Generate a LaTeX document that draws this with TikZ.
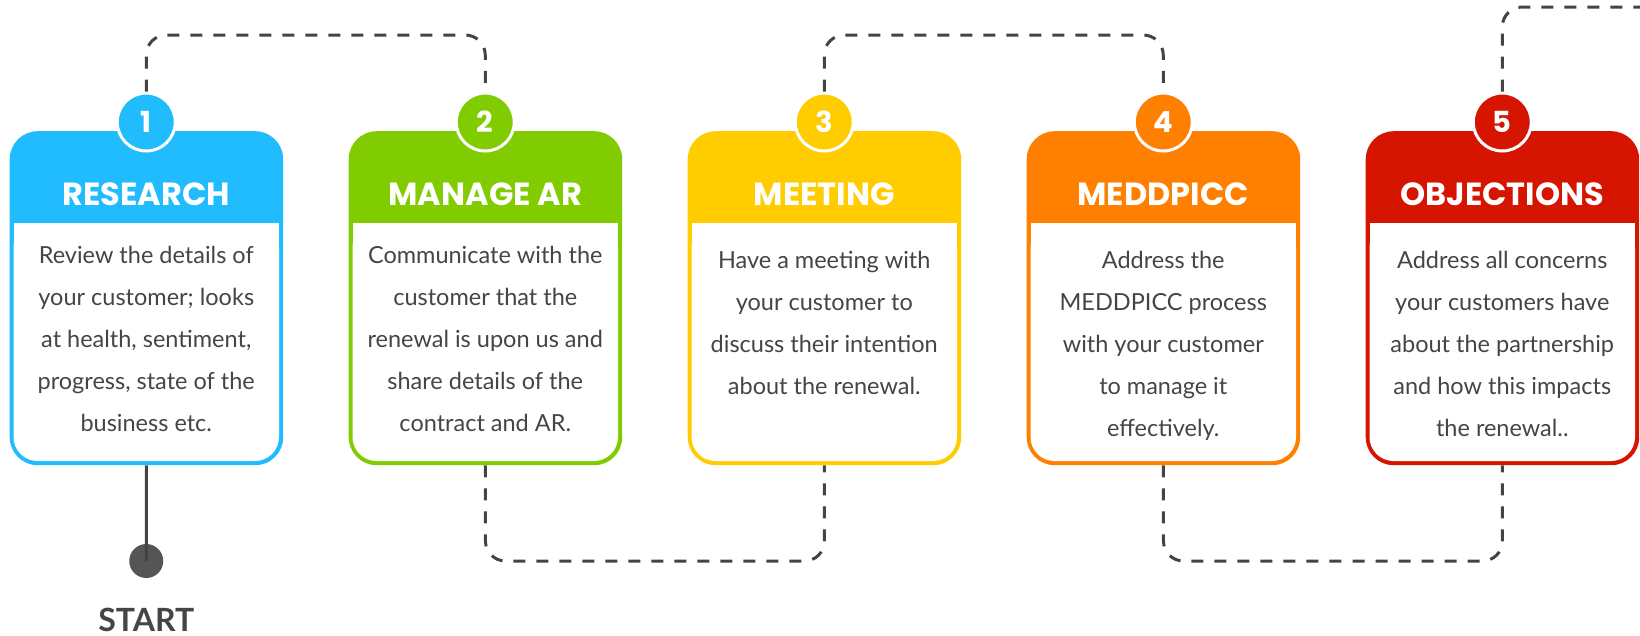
\documentclass[tikz,border=0pt]{standalone}
\usepackage{fontspec}
\setmainfont{Lato}
\newfontfamily\headfont{Poppins}
\definecolor{stepblue}{HTML}{20BCFE}
\definecolor{stepgreen}{HTML}{80CC00}
\definecolor{stepyellow}{HTML}{FFCC00}
\definecolor{steporange}{HTML}{FF7F00}
\definecolor{stepred}{HTML}{D51500}
\definecolor{linegray}{HTML}{444444}
\definecolor{textgray}{HTML}{454545}
\definecolor{dotgray}{HTML}{555555}

\tikzset{
  cardframe/.style={rectangle, rounded corners=28pt, minimum width=273.5pt,
    minimum height=334pt, inner sep=0pt, anchor=north west},
  badge/.style={circle, minimum size=58pt, inner sep=0pt, draw=white, line width=3pt,
    text=white, font=\headfont\bfseries\fontsize{29}{29}\selectfont},
  headtext/.style={text=white, inner sep=0pt, font=\headfont\bfseries\fontsize{32}{32}\selectfont},
  bodytext/.style={text=textgray, inner sep=0pt, anchor=base, font=\fontsize{23.5}{28}\selectfont},
  connector/.style={draw=linegray, line width=3pt, dash pattern=on 12pt off 11pt,
    rounded corners=20pt},
  startline/.style={draw=linegray, line width=3pt},
}

% one step card: name, left x, colour, title, number
\newcommand\stepcard[5]{%
  \node[cardframe, fill=#3] (#1) at (#2,131) {};
  \fill[white, rounded corners=24pt] (#2+4,223) rectangle (#2+269.5,461);
  \fill[white] (#2+4,223) rectangle (#2+269.5,263);
  \node[headtext] (#1-title) at (#2+136.75,194) {#4};
  \node[badge, fill=#3] (#1-num) at (#2+136.75,122) {#5};
}
% body lines of a card: name, centre x, first baseline, list of lines
\newcommand\bodylines[4]{%
  \foreach \t [count=\k] in {#4} {%
    \node[bodytext] (#1-line\k) at (#2,{#3+42*(\k-1)}) {\t};
  }%
}

\begin{document}
\begin{tikzpicture}[x=1pt,y=-1pt]
\useasboundingbox (0,0) rectangle (1640,635);

\coordinate (topline) at (0,35);
\coordinate (botline) at (0,561);
\coordinate (highline) at (0,7);
\coordinate (rightend) at (1660,7);

\stepcard{c1}{9.5}{stepblue}{RESEARCH}{1}
\stepcard{c2}{348.5}{stepgreen}{MANAGE AR}{2}
\stepcard{c3}{687.5}{stepyellow}{MEETING}{3}
\stepcard{c4}{1026.5}{steporange}{MEDDPICC}{4}
\stepcard{c5}{1365.5}{stepred}{OBJECTIONS}{5}

\bodylines{c1}{146.25}{263}{Review the details of, your customer; looks,
  {at health, sentiment,}, {progress, state of the}, business etc.}
\bodylines{c2}{485.25}{263}{Communicate with the, customer that the,
  renewal is upon us and, share details of the, contract and AR.}
\bodylines{c3}{824.25}{268}{Have a meeting with, your customer to,
  discuss their intention, about the renewal.}
\bodylines{c4}{1163.25}{268}{Address the, MEDDPICC process,
  with your customer, to manage it, effectively.}
\bodylines{c5}{1502.25}{268}{Address all concerns, your customers have,
  about the partnership, and how this impacts, the renewal..}

% dashed route between the steps
\draw[connector] (c1-num.north) -- (c1-num.north |- topline)
  -- (c2-num.north |- topline) -- (c2-num.north);
\draw[connector] (c2.south) -- (c2.south |- botline)
  -- (c3.south |- botline) -- (c3.south);
\draw[connector] (c3-num.north) -- (c3-num.north |- topline)
  -- (c4-num.north |- topline) -- (c4-num.north);
\draw[connector] (c4.south) -- (c4.south |- botline)
  -- (c5.south |- botline) -- (c5.south);
\draw[connector] (c5-num.north) -- (c5-num.north |- highline) -- (rightend);

% start marker
\node[circle, fill=dotgray, minimum size=34pt, inner sep=0pt] (startdot) at (146.25,561) {};
\draw[startline] (c1.south) -- (startdot.center);
\node[text=textgray, inner sep=0pt, anchor=base, font=\bfseries\fontsize{32}{32}\selectfont]
  (start) at (146.25,631) {START};
\end{tikzpicture}
\end{document}
